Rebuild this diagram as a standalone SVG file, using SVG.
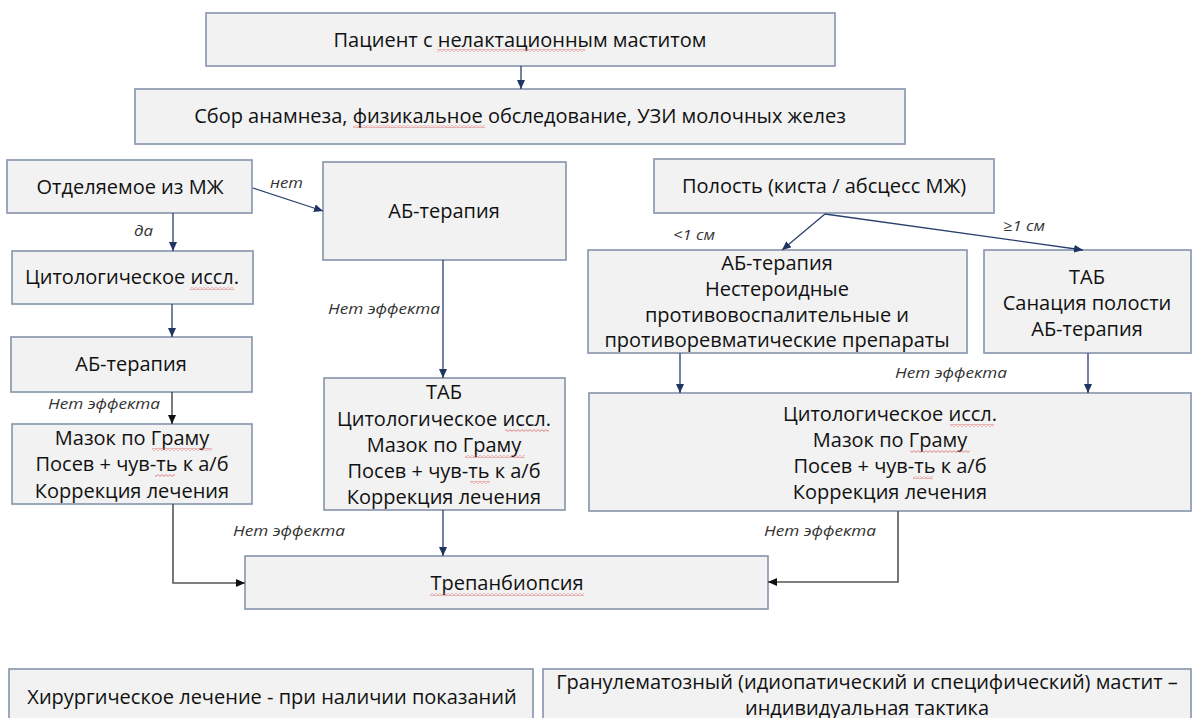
<svg xmlns="http://www.w3.org/2000/svg" width="1195" height="718" viewBox="0 0 1195 718">
<defs>
<style>
.box{fill:#f2f2f2;stroke:#8593ad;stroke-width:1.6}
.t{font-family:"Open Sans","Liberation Sans",sans-serif;font-size:20px;fill:#111;text-anchor:middle}
.lbl{font-family:"Open Sans","Liberation Sans",sans-serif;font-size:15px;font-style:italic;fill:#333}
.nv{stroke:#2a3f6e;stroke-width:1.3;fill:none;marker-end:url(#an)}
.bk{stroke:#333;stroke-width:1.3;fill:none;marker-end:url(#ab)}
.gr{stroke:#555;stroke-width:1.6;fill:none;marker-end:url(#ab)}
.sq{fill:url(#wv)}
</style>
<pattern id="wv" width="4" height="3" patternUnits="userSpaceOnUse"><path d="M0,2.4 L2,0.6 L4,2.4" stroke="#e06060" stroke-width="0.8" fill="none"/></pattern>
<marker id="an" markerWidth="9" markerHeight="8" refX="9" refY="4" orient="auto" markerUnits="userSpaceOnUse"><path d="M0,0 L9,4 L0,8 z" fill="#1f3461"/></marker>
<marker id="ab" markerWidth="9" markerHeight="8" refX="9" refY="4" orient="auto" markerUnits="userSpaceOnUse"><path d="M0,0 L9,4 L0,8 z" fill="#111"/></marker>
</defs>
<rect width="1195" height="718" fill="#fff"/>

<g id="n1"><rect class="box" x="206" y="13" width="629" height="53"/><text class="t" x="520" y="47">Пациент с нелактационным маститом</text></g>
<g id="n2"><rect class="box" x="135" y="89" width="770" height="55"/><text class="t" x="520" y="123">Сбор анамнеза, физикальное обследование, УЗИ молочных желез</text></g>
<g id="n3"><rect class="box" x="7" y="160" width="245" height="53"/><text class="t" x="130" y="194">Отделяемое из МЖ</text></g>
<g id="n4"><rect class="box" x="323" y="162" width="243" height="98"/><text class="t" x="444" y="218">АБ-терапия</text></g>
<g id="n5"><rect class="box" x="654" y="159" width="340" height="54"/><text class="t" x="824" y="193">Полость (киста / абсцесс МЖ)</text></g>
<g id="n6"><rect class="box" x="12" y="251" width="241" height="53"/><text class="t" x="132" y="284">Цитологическое иссл.</text></g>
<g id="n7"><rect class="box" x="11" y="337" width="241" height="55"/><text class="t" x="131" y="371">АБ-терапия</text></g>
<g id="n8"><rect class="box" x="12" y="424" width="240" height="80"/><text class="t" x="132" y="445">Мазок по Граму</text><text class="t" x="132" y="471">Посев + чув-ть к а/б</text><text class="t" x="132" y="498">Коррекция лечения</text></g>
<g id="n9"><rect class="box" x="324" y="378" width="241" height="132"/><text class="t" x="444" y="399">ТАБ</text><text class="t" x="444" y="426">Цитологическое иссл.</text><text class="t" x="444" y="452">Мазок по Граму</text><text class="t" x="444" y="478">Посев + чув-ть к а/б</text><text class="t" x="444" y="504">Коррекция лечения</text></g>
<g id="n10"><rect class="box" x="588" y="250" width="379" height="103"/><text class="t" x="777" y="270">АБ-терапия</text><text class="t" x="777" y="296">Нестероидные</text><text class="t" x="777" y="322">противовоспалительные и</text><text class="t" x="777" y="347">противоревматические препараты</text></g>
<g id="n11"><rect class="box" x="984" y="250" width="207" height="103"/><text class="t" x="1087" y="284">ТАБ</text><text class="t" x="1087" y="310">Санация полости</text><text class="t" x="1087" y="336">АБ-терапия</text></g>
<g id="n12"><rect class="box" x="589" y="393" width="602" height="118"/><text class="t" x="890" y="421">Цитологическое иссл.</text><text class="t" x="890" y="447">Мазок по Граму</text><text class="t" x="890" y="473">Посев + чув-ть к а/б</text><text class="t" x="890" y="499">Коррекция лечения</text></g>
<g id="n13"><rect class="box" x="245" y="556" width="523" height="53"/><text class="t" x="507" y="590">Трепанбиопсия</text></g>
<g id="n14"><rect class="box" x="9" y="669" width="524" height="60"/><text class="t" x="272" y="704">Хирургическое лечение - при наличии показаний</text></g>
<g id="n15"><rect class="box" x="543" y="669" width="648" height="60"/><text class="t" x="867" y="689">Гранулематозный (идиопатический и специфический) мастит –</text><text class="t" x="867" y="715">индивидуальная тактика</text></g>

<g id="connectors">
<path class="nv" d="M521,66 V89"/>
<path class="nv" d="M173,213 V251"/>
<path class="nv" d="M253,188 L323,211"/>
<path class="nv" d="M172,304 V337"/>
<path class="bk" d="M172,392 V424"/>
<path class="nv" d="M443,260 V378"/>
<path class="nv" d="M825,214 L782,250"/>
<path class="nv" d="M825,214 L1083,250"/>
<path class="nv" d="M680,353 V393"/>
<path class="nv" d="M1088,353 V393"/>
<path class="gr" d="M173,504 V583 H245"/>
<path class="nv" d="M443,510 V556"/>
<path class="gr" d="M898,511 V582 H768"/>
</g>

<g id="labels">
<text class="lbl" x="270" y="188" textLength="33" lengthAdjust="spacingAndGlyphs">нет</text>
<text class="lbl" x="134" y="236" textLength="19" lengthAdjust="spacingAndGlyphs">да</text>
<text class="lbl" x="48" y="409" textLength="112" lengthAdjust="spacingAndGlyphs">Нет эффекта</text>
<text class="lbl" x="328" y="314" textLength="112" lengthAdjust="spacingAndGlyphs">Нет эффекта</text>
<text class="lbl" x="895" y="378" textLength="112" lengthAdjust="spacingAndGlyphs">Нет эффекта</text>
<text class="lbl" x="233" y="536" textLength="112" lengthAdjust="spacingAndGlyphs">Нет эффекта</text>
<text class="lbl" x="764" y="536" textLength="112" lengthAdjust="spacingAndGlyphs">Нет эффекта</text>
<text class="lbl" x="673" y="240" textLength="42" lengthAdjust="spacingAndGlyphs">&lt;1 см</text>
<text class="lbl" x="1003" y="231" textLength="42" lengthAdjust="spacingAndGlyphs">≥1 см</text>
</g>

<g id="spellmarks">
<rect class="sq" x="437" y="49" width="148" height="3"/>
<rect class="sq" x="353" y="125" width="132" height="3"/>
<rect class="sq" x="190" y="287" width="44" height="3"/>
<rect class="sq" x="505" y="429" width="44" height="3"/>
<rect class="sq" x="950" y="424" width="44" height="3"/>
<rect class="sq" x="152" y="448" width="60" height="3"/>
<rect class="sq" x="465" y="455" width="60" height="3"/>
<rect class="sq" x="910" y="450" width="60" height="3"/>
<rect class="sq" x="155" y="474" width="20" height="3"/>
<rect class="sq" x="470" y="481" width="20" height="3"/>
<rect class="sq" x="913" y="476" width="20" height="3"/>
<rect class="sq" x="430" y="593" width="154" height="3"/>
</g>
</svg>
